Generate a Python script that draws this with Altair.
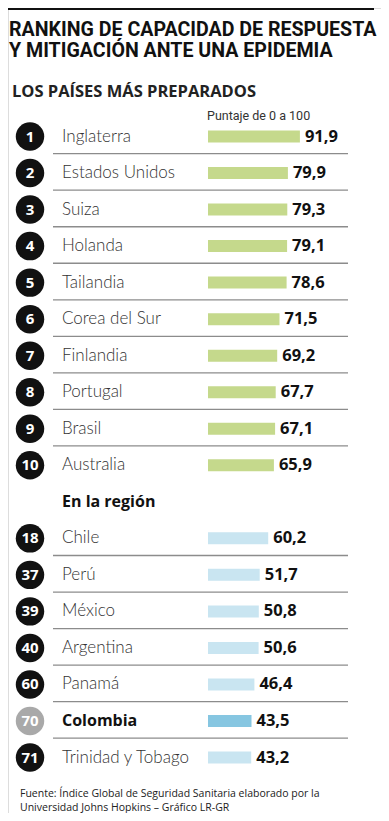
import altair as alt
import pandas as pd

ranks = [1, 2, 3, 4, 5, 6, 7, 8, 9, 10, 18, 37, 39, 40, 60, 70, 71]
countries = ["Inglaterra", "Estados Unidos", "Suiza", "Holanda", "Tailandia",
             "Corea del Sur", "Finlandia", "Portugal", "Brasil", "Australia",
             "Chile", "Perú", "México", "Argentina", "Panamá", "Colombia",
             "Trinidad y Tobago"]
scores = [91.9, 79.9, 79.3, 79.1, 78.6, 71.5, 69.2, 67.7, 67.1, 65.9,
          60.2, 51.7, 50.8, 50.6, 46.4, 43.5, 43.2]
groups = ["top"] * 10 + ["region"] * 7
highlight = "Colombia"

title_lines = ["RANKING DE CAPACIDAD DE RESPUESTA", "Y MITIGACIÓN ANTE UNA EPIDEMIA"]
subtitle = "LOS PAÍSES MÁS PREPARADOS"
axis_note = "Puntaje de 0 a 100"
region_label = "En la región"
source_lines = ["Fuente: Índice Global de Seguridad Sanitaria elaborado por la",
                "Universidad Johns Hopkins – Gráfico LR-GR"]

# row slots: top group 0..9, region header at 10, region rows 11..17
pos = []
i = 0
for g_prev, g in zip([None] + groups[:-1], groups):
    if g_prev is not None and g != g_prev:
        i += 1
    pos.append(i)
    i += 1

kind = ["hl" if c == highlight else g for c, g in zip(countries, groups)]

df = pd.DataFrame({
    "rank": [str(r) for r in ranks],
    "country": countries,
    "score": scores,
    "label": [f"{s:.1f}".replace(".", ",") for s in scores],
    "group": groups,
    "kind": kind,
    "barkind": kind,
    "pos": pos,
})
last_pos = [max(p for p, g in zip(pos, groups) if g == gg) for gg in set(groups)]
df["sep"] = [p not in last_pos for p in pos]
df["ysep"] = df["pos"] + 0.47

W, H = 373, 805
ypx0, ystep = 128.5, 36.53
ydom = [(H - ypx0) / ystep, -ypx0 / ystep]
yscale = alt.Scale(domain=ydom, nice=False, zero=False)
xscale = alt.Scale(domain=[-200, W - 200], nice=False, zero=False)

Y = alt.Y("pos:Q", scale=yscale, axis=None)
X = alt.X("score:Q", scale=xscale, axis=None)

NAME_FONT = "Lato"
BOLD_FONT = "Open Sans"
NARROW = "Roboto"

base = alt.Chart(df)

seps = base.transform_filter("datum.sep").mark_rule(
    color="#8c8c8c", strokeWidth=1.3
).encode(x=alt.value(45), x2=alt.value(340),
         y=alt.Y("ysep:Q", scale=yscale, axis=None))

circles = base.mark_point(filled=True, opacity=1, shape="circle", size=810).encode(
    x=alt.value(22), y=Y,
    color=alt.Color("kind:N", scale=alt.Scale(domain=["top", "region", "hl"],
                                              range=["#111111", "#111111", "#a9a9a9"]),
                    legend=None))

nums = base.mark_text(font=BOLD_FONT, fontWeight="bold", fontSize=15, color="white",
                      align="center", baseline="middle").encode(
    x=alt.value(22), y=Y, text="rank:N")

names = base.transform_filter(alt.datum.country != highlight).mark_text(
    font=NAME_FONT, fontWeight=300, fontSize=17, color="#333333",
    align="left", baseline="middle").encode(
    x=alt.value(54), y=Y, text="country:N")

names_hl = base.transform_filter(alt.datum.country == highlight).mark_text(
    font=BOLD_FONT, fontWeight="bold", fontSize=16, color="#111111",
    align="left", baseline="middle").encode(
    x=alt.value(54), y=Y, text="country:N")

bars = base.mark_rule(strokeWidth=12, strokeCap="butt").encode(
    x=X, x2=alt.datum(0), y=alt.Y("pos:Q", scale=yscale, axis=None),
    color=alt.Color("barkind:N", scale=alt.Scale(domain=["top", "region", "hl"],
                                                 range=["#c5d98c", "#c9e5f1", "#86c6e1"]),
                    legend=None))

vals = base.mark_text(font=BOLD_FONT, fontWeight="bold", fontSize=16.5, color="#111111",
                      align="left", baseline="middle", dx=5).encode(
    x=X, y=Y, text="label:N")

def txt(t, x, y, size, weight="normal", font=BOLD_FONT, color="#111111", baseline="alphabetic"):
    return alt.Chart(pd.DataFrame({"t": [t]})).mark_text(
        font=font, fontSize=size, fontWeight=weight, color=color,
        align="left", baseline=baseline).encode(
        x=alt.value(x), y=alt.value(y), text="t:N")

rule_top = alt.Chart(pd.DataFrame({"a": [0]})).mark_rule(
    color="#111111", strokeWidth=4).encode(x=alt.value(0), x2=alt.value(366), y=alt.value(0))

region_hdr = alt.Chart(pd.DataFrame({"t": [region_label], "pos": [10]})).mark_text(
    font=BOLD_FONT, fontWeight="bold", fontSize=16, color="#111111",
    align="left", baseline="middle").encode(x=alt.value(54), y=Y, text="t:N")

layers = [
    rule_top,
    txt(title_lines[0], 1, 28, 19.6, "bold", NARROW),
    txt(title_lines[1], 1, 49, 19.6, "bold", NARROW),
    txt(subtitle, 4, 89, 16.5, "bold", BOLD_FONT, "#222222"),
    txt(axis_note, 199, 112, 12.5, "normal", NARROW, "#333333"),
    seps, circles, nums, names, names_hl, bars, vals, region_hdr,
    txt(source_lines[0], 12, 789, 10.5, "normal", BOLD_FONT, "#222222"),
    txt(source_lines[1], 12, 803, 10.5, "normal", BOLD_FONT, "#222222"),
]

chart = alt.layer(*layers).resolve_scale(color="independent").properties(
    width=W, height=H, padding=0, autosize=alt.AutoSizeParams(type="none")
).configure_view(stroke=None).configure(background="white")

chart.save("out.html", embed_options={"renderer": "svg", "actions": False})
